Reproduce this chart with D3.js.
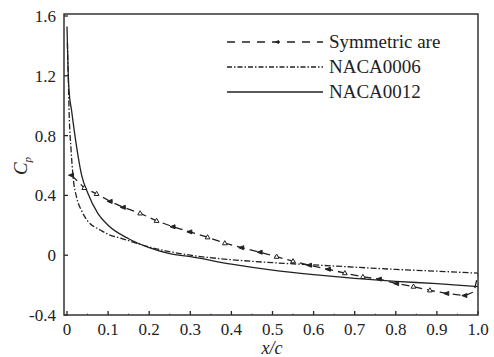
<!DOCTYPE html>
<html><body style="margin:0;background:#fff">
<script src="https://cdn.jsdelivr.net/npm/d3@7/dist/d3.min.js"></script>
<script>
// x/c positions and Cp values
var symX = [0.011, 0.042, 0.072, 0.105, 0.137, 0.178, 0.218, 0.258, 0.299, 0.342, 0.384, 0.425, 0.47, 0.51, 0.55, 0.59, 0.636, 0.676, 0.72, 0.76, 0.802, 0.843, 0.883, 0.924, 0.968, 0.99, 1.0];
var symCp = [0.535, 0.45, 0.41, 0.36, 0.32, 0.28, 0.23, 0.19, 0.156, 0.12, 0.08, 0.05, 0.02, -0.01, -0.04, -0.067, -0.094, -0.12, -0.145, -0.16, -0.19, -0.21, -0.235, -0.256, -0.27, -0.245, -0.13];

var n6X = [0.001, 0.003, 0.005, 0.01, 0.015, 0.024, 0.035, 0.05, 0.08, 0.1, 0.135, 0.2, 0.3, 0.4, 0.5, 0.6, 0.7, 0.8, 0.9, 1.0];
var n6Cp = [1.42, 1.2, 0.97, 0.7, 0.52, 0.38, 0.3, 0.23, 0.17, 0.14, 0.11, 0.055, 0.0, -0.03, -0.05, -0.065, -0.08, -0.095, -0.107, -0.12];

var n12X = [0.0, 0.002, 0.005, 0.011, 0.022, 0.036, 0.05, 0.075, 0.1, 0.15, 0.2, 0.25, 0.3, 0.4, 0.5, 0.6, 0.7, 0.8, 0.9, 1.0];
var n12Cp = [1.53, 1.3, 1.1, 0.97, 0.75, 0.53, 0.42, 0.28, 0.2, 0.11, 0.05, 0.01, -0.01, -0.06, -0.1, -0.13, -0.155, -0.175, -0.19, -0.21];

var xTicks = [0, 0.1, 0.2, 0.3, 0.4, 0.5, 0.6, 0.7, 0.8, 0.9, 1.0];
var xMinorTicks = [0.05, 0.15, 0.25, 0.35, 0.45, 0.55, 0.65, 0.75, 0.85, 0.95];
var xTickLabels = ["0", "0.1", "0.2", "0.3", "0.4", "0.5", "0.6", "0.7", "0.8", "0.9", "1.0"];
var yTicks = [-0.4, 0, 0.4, 0.8, 1.2, 1.6];
var yTickLabels = ["-0.4", "0", "0.4", "0.8", "1.2", "1.6"];
var legendNames = ["Symmetric are", "NACA0006", "NACA0012"];

var W = 494, H = 357;
var ink = "#222";
var frame = {left: 64, right: 478, top: 14, bottom: 315};

var x = d3.scaleLinear().domain([0, 1]).range([67, 478]);
var y = d3.scaleLinear().domain([-0.4, 1.6]).range([315, 16]);

var svg = d3.select("body").append("svg").attr("width", W).attr("height", H);

function label(sel, size) {
  return sel.style("font-family", "'Liberation Serif'")
    .style("font-size", size + "px")
    .attr("fill", ink);
}

// tick labels
svg.selectAll("text.xlab").data(xTicks).enter().append("text")
  .attr("class", "xlab")
  .attr("x", function(d) { return x(d); })
  .attr("y", 335)
  .attr("text-anchor", "middle")
  .call(label, 17)
  .text(function(d, i) { return xTickLabels[i]; });

svg.selectAll("text.ylab").data(yTicks).enter().append("text")
  .attr("class", "ylab")
  .attr("x", 56)
  .attr("y", function(d) { return y(d) + 6; })
  .attr("text-anchor", "end")
  .call(label, 17)
  .text(function(d, i) { return yTickLabels[i]; });

// axis titles
svg.append("text")
  .attr("x", 272).attr("y", 354)
  .attr("text-anchor", "middle")
  .call(label, 18).style("font-style", "italic")
  .text("x/c");

var cp = svg.append("text")
  .attr("transform", "translate(27,166) rotate(-90)")
  .attr("text-anchor", "middle")
  .call(label, 19).style("font-style", "italic");
cp.append("tspan").text("C");
cp.append("tspan").attr("dy", 4).style("font-size", "11px").text("p");

// inward tick marks from the scales
var ticks = svg.append("g").attr("stroke", ink);
ticks.selectAll("line.xt").data(xTicks).enter().append("line")
  .attr("x1", function(d) { return x(d); }).attr("x2", function(d) { return x(d); })
  .attr("y1", frame.bottom).attr("y2", frame.bottom - 4).attr("stroke-width", 1.3);
ticks.selectAll("line.xm").data(xMinorTicks).enter().append("line")
  .attr("x1", function(d) { return x(d); }).attr("x2", function(d) { return x(d); })
  .attr("y1", frame.bottom).attr("y2", frame.bottom - 1.5).attr("stroke", "#666");
ticks.selectAll("line.yt").data(yTicks).enter().append("line")
  .attr("x1", frame.left).attr("x2", frame.left + 4)
  .attr("y1", function(d) { return y(d); }).attr("y2", function(d) { return y(d); })
  .attr("stroke-width", 1.3);

// curves
var line = d3.line().x(function(d) { return x(d[0]); }).y(function(d) { return y(d[1]); });
var lineSmooth = d3.line().curve(d3.curveMonotoneX).x(function(d) { return x(d[0]); }).y(function(d) { return y(d[1]); });

var plot = svg.append("g").attr("fill", "none").attr("stroke", ink).attr("stroke-width", 1.3);

plot.append("path")
  .attr("d", lineSmooth(d3.zip(n12X, n12Cp)));

plot.append("path")
  .attr("stroke-dasharray", "6,2,1.5,2")
  .attr("d", lineSmooth(d3.zip(n6X, n6Cp)));

var symData = d3.zip(symX, symCp);
plot.append("path")
  .attr("stroke-dasharray", "8,5")
  .attr("d", line(symData));

var arrowPath = "M-3,0 L2,-2 L2,2 Z";
var triPath = "M0,-2.6 L2.4,1.6 L-2.4,1.6 Z";
function isFilled(i) { return ((i + 1) >> 1) % 2 === 0; }

plot.selectAll("path.mk").data(symData.slice(0, symData.length - 2)).enter().append("path")
  .attr("class", "mk")
  .attr("transform", function(d) { return "translate(" + x(d[0]) + "," + y(d[1]) + ")"; })
  .attr("d", function(d, i) { return isFilled(i) ? arrowPath : triPath; })
  .attr("fill", function(d, i) { return isFilled(i) ? ink : "#fff"; })
  .attr("stroke-width", 1);

// frame
svg.append("rect")
  .attr("x", frame.left).attr("y", frame.top)
  .attr("width", frame.right - frame.left).attr("height", frame.bottom - frame.top)
  .attr("fill", "none").attr("stroke", "#333").attr("stroke-width", 1.5);

// legend
var leg = svg.append("g");
var dashes = ["8,7", "5,2,1.5,2", null];
legendNames.forEach(function(name, i) {
  var ly = 42 + i * 25;
  var l = leg.append("line")
    .attr("x1", 227).attr("x2", 323).attr("y1", ly).attr("y2", ly)
    .attr("stroke", ink).attr("stroke-width", 1.3);
  if (dashes[i]) l.attr("stroke-dasharray", dashes[i]);
  if (i === 0) {
    leg.append("path").attr("transform", "translate(277," + ly + ")")
      .attr("d", arrowPath).attr("fill", ink);
  }
  leg.append("text")
    .attr("x", 329).attr("y", ly + 6)
    .call(label, 19)
    .text(name);
});
</script>
</body></html>
